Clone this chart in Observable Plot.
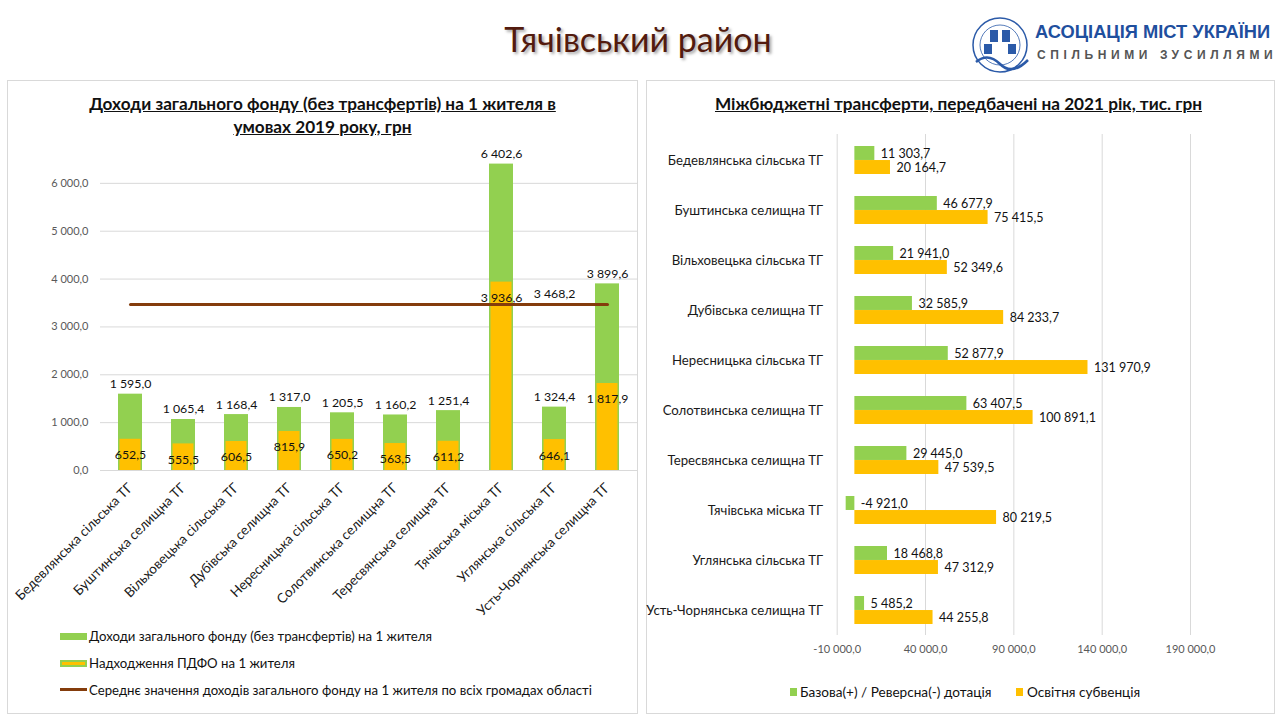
<!DOCTYPE html>
<html><head><meta charset="utf-8">
<script src="https://cdn.jsdelivr.net/npm/d3@7"></script>
<script src="https://cdn.jsdelivr.net/npm/@observablehq/plot@0.6"></script>
<style>
body{margin:0;width:1280px;height:720px;background:#fff;font-family:Lato,"Open Sans",sans-serif;position:relative;overflow:hidden}
.abs{position:absolute}
.panel{position:absolute;border:1px solid #d9d9d9;background:#fff;box-sizing:border-box}
.ptitle{position:absolute;text-align:center;font-weight:bold;font-size:17.2px;line-height:23px;text-decoration:underline;color:#111}
.leg{position:absolute;font-size:13.2px;color:#111;white-space:nowrap;line-height:16px}
.sw{position:absolute}
#left svg,#right svg{overflow:visible}
#left g[aria-label^="y-axis"] text{fill:#595959;font-size:11px}
#left g[aria-label^="x-axis"] text{fill:#1a1a1a;font-size:13.5px}
#right g[aria-label^="x-axis"] text{fill:#595959;font-size:11px}
#right g[aria-label^="y-axis"] text{fill:#1a1a1a;font-size:13.2px}
</style></head><body>

<div class="abs" style="left:0;top:18px;width:1276px;text-align:center;font-size:34px;color:#531b0e;text-shadow:2px 2px 3px rgba(0,0,0,0.35)">Тячівський район</div>

<svg class="abs" style="left:968px;top:12px" width="310" height="66">
  <g fill="none" stroke="#2b5aa8" stroke-width="1.5">
    <circle cx="32" cy="33" r="27"/>
    <circle cx="32" cy="33" r="20" stroke-width="0.8"/>
    <path d="M8 50 Q20 40 32 52 Q44 64 60 48" stroke-width="2.5"/>
  </g>
  <g fill="#2b5aa8">
    <rect x="22" y="18" width="8" height="12"/>
    <rect x="34" y="18" width="8" height="12"/>
    <rect x="16" y="32" width="8" height="10"/>
    <rect x="40" y="32" width="8" height="10"/>
  </g>
  <text x="67" y="26" font-family="'Liberation Sans',Arial,sans-serif" font-weight="bold" font-size="18.3" fill="#1f4f9e" transform="translate(67,26) scale(1,1.05) translate(-67,-26)">АСОЦІАЦІЯ МІСТ УКРАЇНИ</text>
  <text x="69" y="47" font-family="'Liberation Sans',Arial,sans-serif" font-weight="bold" font-size="12" fill="#555" letter-spacing="4.6">СПІЛЬНИМИ ЗУСИЛЛЯМИ</text>
</svg>

<div class="panel" style="left:7px;top:80px;width:631px;height:634px"></div>
<div class="panel" style="left:646px;top:80px;width:629px;height:634px"></div>

<div class="ptitle" style="left:7px;top:92px;width:631px">Доходи загального фонду (без трансфертів) на 1 жителя в<br>умовах 2019 року, грн</div>
<div class="ptitle" style="left:646px;top:92px;width:625px">Міжбюджетні трансферти, передбачені на 2021 рік, тис. грн</div>

<div id="left" class="abs" style="left:7px;top:80px"></div>
<div id="right" class="abs" style="left:646px;top:125px"></div>

<!-- left legend -->
<div class="sw" style="left:60px;top:633px;width:27px;height:7px;background:#92D050"></div>
<div class="leg" style="left:89px;top:628px">Доходи загального фонду (без трансфертів) на 1 жителя</div>
<div class="sw" style="left:60px;top:660px;width:27px;height:7px;background:#92D050"></div>
<div class="sw" style="left:62px;top:662px;width:23px;height:3px;background:#FFC000"></div>
<div class="leg" style="left:89px;top:655px">Надходження ПДФО на 1 жителя</div>
<div class="sw" style="left:60px;top:688px;width:27px;height:3px;background:#843C0C"></div>
<div class="leg" style="left:89px;top:682px">Середнє значення доходів загального фонду на 1 жителя по всіх громадах області</div>

<!-- right legend -->
<div class="sw" style="left:790px;top:688px;width:7px;height:8px;background:#92D050"></div>
<div class="leg" style="left:800px;top:684px;font-size:13.6px">Базова(+) / Реверсна(-) дотація</div>
<div class="sw" style="left:1016px;top:688px;width:7px;height:8px;background:#FFC000"></div>
<div class="leg" style="left:1027px;top:684px;font-size:13.6px">Освітня субвенція</div>

<script>
const categories = ["Бедевлянська сільська ТГ","Буштинська селищна ТГ","Вільховецька сільська ТГ","Дубівська селищна ТГ","Нересницька сільська ТГ","Солотвинська селищна ТГ","Тересвянська селищна ТГ","Тячівська міська ТГ","Углянська сільська ТГ","Усть-Чорнянська селищна ТГ"];
const incomePerCapita = [1595.0,1065.4,1168.4,1317.0,1205.5,1160.2,1251.4,6402.6,1324.4,3899.6];
const pdfoPerCapita = [652.5,555.5,606.5,815.9,650.2,563.5,611.2,3936.6,646.1,1817.9];
const oblastAverage = 3468.2;
const leftTicks = [0,1000,2000,3000,4000,5000,6000];
const baseDotation = [11303.7,46677.9,21941.0,32585.9,52877.9,63407.5,29445.0,-4921.0,18468.8,5485.2];
const eduSubvention = [20164.7,75415.5,52349.6,84233.7,131970.9,100891.1,47539.5,80219.5,47312.9,44255.8];
const rightTicks = [-10000,40000,90000,140000,190000];

const loc = d3.formatLocale({decimal: ",", thousands: " ", grouping: [3], currency: ["", ""], minus: "-"});
const fmt = loc.format(",.1f");

const rowsL = categories.map((name, i) => ({name, income: incomePerCapita[i], pdfo: pdfoPerCapita[i], avg: oblastAverage}));
const rowsR = categories.map((name, i) => ({name, base: baseDotation[i], edu: eduSubvention[i]}));

const font = {fontFamily: "Lato, 'Open Sans', sans-serif", background: "transparent", color: "#111"};

const leftPlot = Plot.plot({
  width: 631, height: 560,
  marginTop: 55, marginBottom: 170, marginLeft: 93, marginRight: 0,
  style: font,
  x: {domain: categories, paddingInner: 0.54, paddingOuter: 0.27, tickSize: 0, tickRotate: -45, tickPadding: 15, label: null},
  y: {domain: [0, 7000], ticks: leftTicks, tickFormat: fmt, tickSize: 0, tickPadding: 12, label: null},
  marks: [
    Plot.ruleY(leftTicks, {stroke: "#d9d9d9", strokeOpacity: 1}),
    Plot.barY(rowsL, {x: "name", y: "income", fill: "#92D050"}),
    Plot.barY(rowsL, {x: "name", y: "pdfo", fill: "#FFC000", insetLeft: 1.5, insetRight: 1.5}),
    Plot.line(rowsL, {x: "name", y: "avg", stroke: "#843C0C", strokeWidth: 3}),
    Plot.text(rowsL, {x: "name", y: "income", text: d => fmt(d.income), dy: -10, fontSize: 12.3, fill: "#111"}),
    Plot.text(rowsL, {x: "name", y: "pdfo", text: d => fmt(d.pdfo), dy: 16, fontSize: 12.3, fill: "#111"}),
    Plot.text(rowsL.filter(d => d.name === categories[8]), {x: "name", y: "avg", text: d => fmt(d.avg), dy: -10, fontSize: 12.3, fill: "#111"})
  ]
});
document.getElementById("left").appendChild(leftPlot);

const half = 14.03;
const rightPlot = Plot.plot({
  width: 628, height: 545,
  marginTop: 9, marginBottom: 35, marginLeft: 190.7, marginRight: 84,
  style: font,
  x: {domain: [-10000, 190000], ticks: rightTicks, tickFormat: fmt, tickSize: 0, tickPadding: 10, label: null},
  y: {domain: categories, paddingInner: 0.44, paddingOuter: 0.22, tickSize: 0, tickPadding: 14, label: null},
  marks: [
    Plot.ruleX(rightTicks, {stroke: "#d9d9d9", strokeOpacity: 1}),
    Plot.barX(rowsR, {y: "name", x: "base", fill: "#92D050", insetBottom: half}),
    Plot.barX(rowsR, {y: "name", x: "edu", fill: "#FFC000", insetTop: half}),
    Plot.text(rowsR, {y: "name", x: d => Math.max(d.base, 0), text: d => fmt(d.base), dx: 6, dy: -7, textAnchor: "start", fontSize: 12.5, fill: "#111"}),
    Plot.text(rowsR, {y: "name", x: d => Math.max(d.edu, 0), text: d => fmt(d.edu), dx: 6, dy: 7, textAnchor: "start", fontSize: 12.5, fill: "#111"})
  ]
});
document.getElementById("right").appendChild(rightPlot);
</script>
</body></html>
